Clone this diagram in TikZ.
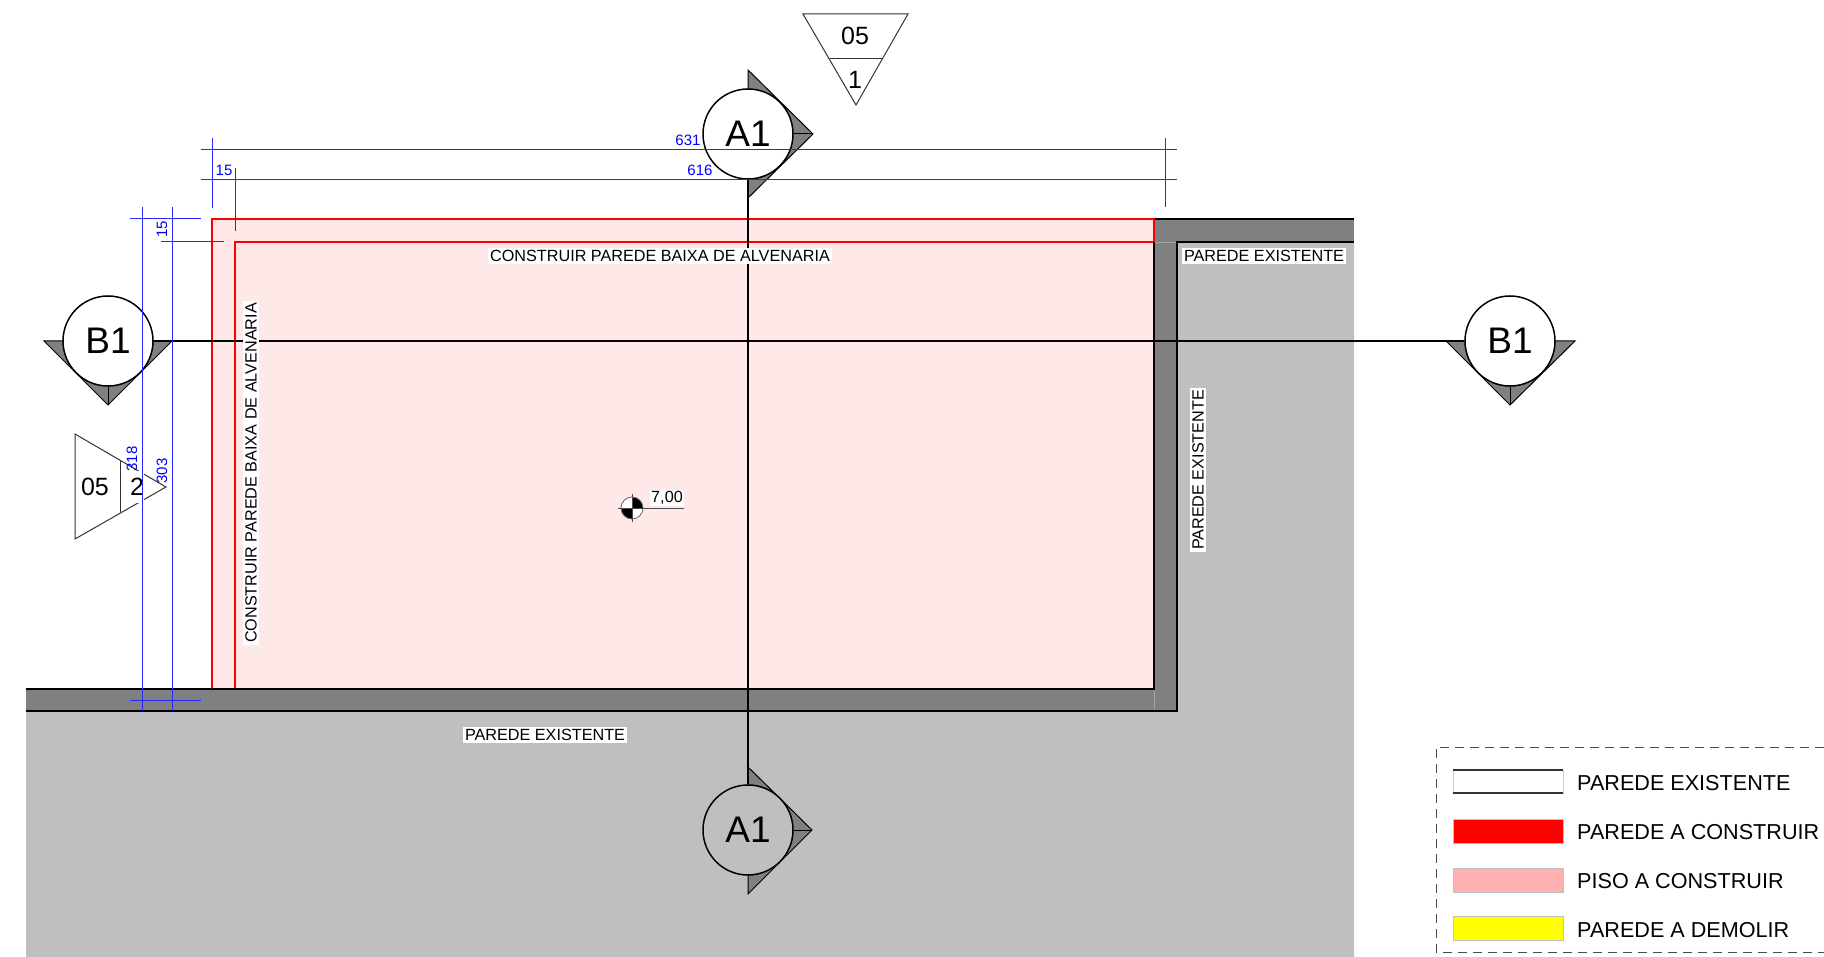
\documentclass[tikz,border=0pt]{standalone}
\usepackage{fontspec}
\setmainfont{Liberation Sans}
\usetikzlibrary{calc}
\definecolor{floorpink}{HTML}{FEE8E8}
\definecolor{swatchpink}{HTML}{FFB0B0}
\definecolor{swatchred}{HTML}{FF0000}
\definecolor{swatchyellow}{HTML}{FFFF00}
\tikzset{
    wall/.style = {black, line width = 1.5pt},
    newwall/.style = {swatchred, line width = 2pt},
    dimline/.style = {blue!85!white, line width = 1pt},
    dimtext/.style = {blue, inner sep = 0pt, font = \fontsize{15}{15}\selectfont},
    note/.style = {fill = white, text = black, inner sep = 2pt, font = \fontsize{16.2}{18}\selectfont},
    legendtext/.style = {right, inner sep = 0pt, font = \fontsize{21.6}{23}\selectfont},
    swatch/.style = {draw = black!25, line width = 1pt},
    marker/.style = {circle, draw = black, line width = 1.5pt, minimum size = 90pt, inner sep = 0pt, font = \fontsize{37}{40}\selectfont},
    cutfill/.style = {fill = black!50, draw = black, line width = 1pt},
    detail/.style = {draw = black!80, line width = 1pt},
    detailtext/.style = {inner sep = 1pt, font = \fontsize{25}{27}\selectfont}
}

\begin{document}
\begin{tikzpicture}%
            [x = 1pt, y = -1pt]
            \useasboundingbox (0,0) rectangle (1824,957);

            % ground and walls
            \fill [black!25] (26,711) -- (1177,711) -- (1177,242) -- (1354,242) -- (1354,957) -- (26,957) -- cycle;
            \fill [black!50] (26,689) rectangle (1177,711);
            \fill [black!50] (1154,219) rectangle (1177,711);
            \fill [black!50] (1154,219) rectangle (1354,242);
            \draw [black!35, line width = 0.8pt] (1154,689) -- (1154,711);
            \draw [black!35, line width = 0.8pt] (1154,242) -- (1177,242);
            \draw [wall] (1154,219) -- (1354,219);
            \draw [wall] (1354,242) -- (1177,242) -- (1177,711) -- (26,711);
            \draw [wall] (26,689) -- (1154,689) -- (1154,242);

            % floor and new walls
            \fill [floorpink] (212,219) rectangle (1154,689);
            \draw [newwall] (212,689) -- (212,219) -- (1154,219) -- (1154,242) -- (235,242) -- (235,689);
            \draw [wall] (1154,242) -- (1154,689) -- (212,689);

            % detail triangles
            \draw [detail] (803,14) -- (908,14) -- (856,105) -- cycle;
            \draw [detail] (830,59) -- (882,59);
            \node [detailtext] (det05a) at (855,36) {05};
            \node [detailtext] (det1) at (855,80) {1};

            \draw [detail] (75,434) -- (166,487) -- (75,539) -- cycle;
            \draw [detail] (120,461) -- (120,512);
            \node [detailtext] (det05b) at (95,487) {05};
            \node [detailtext, fill = white, inner xsep = 0pt, minimum height = 32pt] (det2) at (137,487) {2};

            % section markers
            \draw [cutfill] (748,70) -- (813,134) -- (748,198) -- cycle;
            \draw [cutfill] (748,767) -- (812,830) -- (748,894) -- cycle;
            \draw [cutfill] (44,341) -- (172,341) -- (108,405) -- cycle;
            \draw [cutfill] (1446,341) -- (1575,341) -- (1510,405) -- cycle;
            \node [marker, fill = white] (a1top) at (748,134) {A1};
            \node [marker, fill = black!25] (a1bot) at (748,830) {A1};
            \node [marker, fill = white] (b1left) at (108,341) {B1};
            \node [marker, fill = white] (b1right) at (1510,341) {B1};
            \draw [wall] (a1top) -- (a1bot);
            \draw [wall] (b1left) -- (b1right);
            \draw [black, line width = 1pt] (a1top.east) -- (813,134);
            \draw [black, line width = 1pt] (a1bot.east) -- (812,830);
            \draw [black, line width = 1pt] (b1left.south) -- (108,405);
            \draw [black, line width = 1pt] (b1right.south) -- (1510,405);

            % dimensions
            \draw [dimline] (201,150) -- (1177,150);
            \draw [dimline] (201,180) -- (1177,180);
            \draw [dimline] (212,138) -- (212,208);
            \draw [dimline] (235,168) -- (235,231);
            \draw [dimline] (1165,138) -- (1165,207);
            \draw [dimline] (142,207) -- (142,711);
            \draw [dimline] (172,207) -- (172,711);
            \draw [dimline] (130,219) -- (201,219);
            \draw [dimline] (161,242) -- (224,242);
            \draw [dimline] (130,700) -- (201,700);
            \node [dimtext] (dim631) at (688,140) {631};
            \node [dimtext] (dim616) at (700,170) {616};
            \node [dimtext] (dim15a) at (224,170) {15};
            \node [dimtext, rotate = 90] (dim15b) at (162,229) {15};
            \node [dimtext, rotate = 90] (dim318) at (132,459) {318};
            \node [dimtext, rotate = 90] (dim303) at (162,471) {303};

            % labels
            \node [note] (notetop) at (660,256) {CONSTRUIR PAREDE BAIXA DE ALVENARIA};
            \node [note, rotate = 90] (noteleft) at (251,473) {CONSTRUIR PAREDE BAIXA DE ALVENARIA};
            \node [note] (noteright) at (1264,256) {PAREDE EXISTENTE};
            \node [note, rotate = 90] (notewall) at (1198,470) {PAREDE EXISTENTE};
            \node [note] (notebot) at (545,735) {PAREDE EXISTENTE};

            % level mark
            \fill [white] (632,508) circle (11);
            \fill [black] (632,508) -- (621,508) arc (180:90:11) -- cycle;
            \fill [black] (632,508) -- (643,508) arc (0:-90:11) -- cycle;
            \draw [black!60, line width = 0.8pt] (632,508) circle (11);
            \draw [black!70, line width = 1pt] (618,508) -- (684,508);
            \draw [black!70, line width = 1pt] (632,494) -- (632,522);
            \node [note, inner sep = 1pt] (level) at (667,498) {7,00};

            % legend
            \draw [black!70, dashed, dash pattern = on 9pt off 6pt, line width = 1pt] (1824,747) -- (1436,747) -- (1436,952) -- (1824,952);
            \fill [white, draw = black!20] (1453,770) rectangle (1563,793);
            \draw [black!80, line width = 1.5pt] (1453,770) -- (1563,770);
            \draw [black!80, line width = 1.5pt] (1453,793) -- (1563,793);
            \fill [swatchred, swatch] (1453,819) rectangle (1563,843);
            \fill [swatchpink, swatch] (1453,868) rectangle (1563,892);
            \fill [swatchyellow, swatch] (1453,916) rectangle (1563,940);
            \node [legendtext] (legwall) at (1577,783) {PAREDE EXISTENTE};
            \node [legendtext] (legnew) at (1577,832) {PAREDE A CONSTRUIR};
            \node [legendtext] (legfloor) at (1577,881) {PISO A CONSTRUIR};
            \node [legendtext] (legdemo) at (1577,930) {PAREDE A DEMOLIR};

        \end{tikzpicture}
\end{document}
